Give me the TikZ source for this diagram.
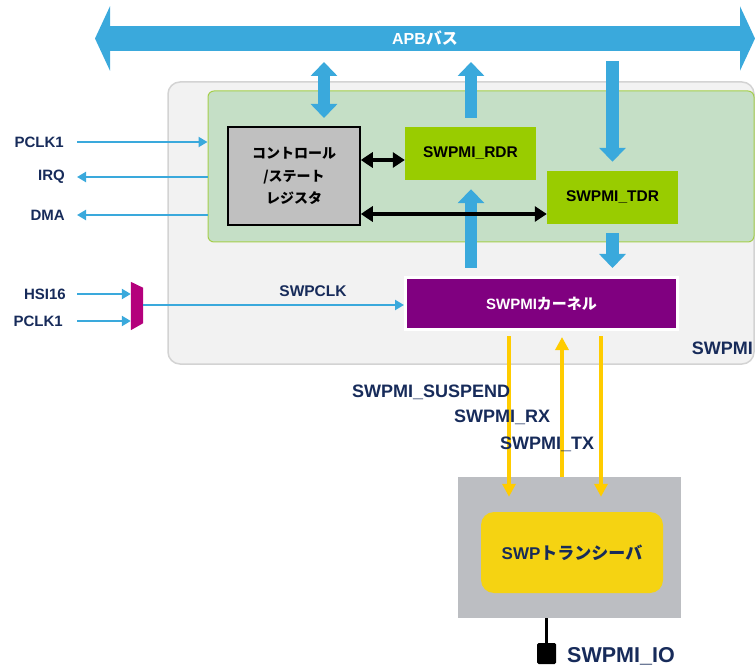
\documentclass[tikz,border=0pt]{standalone}
\usepackage{fontspec}
\setmainfont{Liberation Sans}
\newfontfamily\jp{Noto Sans CJK JP}
\usetikzlibrary{arrows.meta,calc}

\definecolor{apb}{HTML}{3AA9DC}
\definecolor{navy}{HTML}{172B5A}
\definecolor{outerfill}{HTML}{F2F2F2}
\definecolor{outerline}{HTML}{D3D3D3}
\definecolor{corefill}{HTML}{C5DFC6}
\definecolor{coreline}{HTML}{A5CF4C}
\definecolor{lime}{HTML}{99CC00}
\definecolor{regfill}{HTML}{C0C0C0}
\definecolor{kernfill}{HTML}{800080}
\definecolor{muxfill}{HTML}{B4007C}
\definecolor{sig}{HTML}{FFCC00}
\definecolor{trxfill}{HTML}{BCBEC2}
\definecolor{trxcore}{HTML}{F5D312}

\newcommand\fs[2]{\fontsize{#1}{#2}\selectfont}

\tikzset{
  fathead/.tip={Triangle[width=26,length=14]},
  bushead/.tip={Triangle[width=64,length=15]},
  ylwhead/.tip={Triangle[width=13,length=13]},
  lbl/.style={text=navy, font=\bfseries\fs{15}{17}, inner sep=0},
  siglbl/.style={text=navy, font=\bfseries\fs{18}{20}, inner sep=0, anchor=west},
  thinblue/.style={draw=apb, line width=2.8, -{Triangle[width=10,length=9]}},
  fatblue/.style={draw=apb, line width=12.5},
  blk/.style={draw=black, line width=3.8, {Triangle[width=15,length=12]}-{Triangle[width=15,length=12]}},
  ylw/.style={draw=sig, line width=4},
  regbox/.style={minimum width=131, minimum height=53, inner sep=0, fill=lime,
    font=\bfseries\fs{15.5}{17}},
}

\begin{document}
\begin{tikzpicture}[x=1pt,y=-1pt]
\useasboundingbox (0,0) rectangle (755,668);
\clip (0,0) rectangle (755,668);

% peripheral outline and register area
\node (swpmi) [draw=outerline, line width=1.5, fill=outerfill, rounded corners=12,
  minimum width=586, minimum height=282, inner sep=0] at (461,223) {};
\node (core) [draw=coreline, line width=1, fill=corefill, rounded corners=6,
  minimum width=546, minimum height=151, inner sep=0] at (481,166.5) {};
\node [text=navy, font=\bfseries\fs{18}{20}, anchor=east, inner sep=0] at (753,348) {SWPMI};

% APB bus
\coordinate (busL) at (95,38.5);
\coordinate (busR) at (755,38.5);
\draw[draw=apb, line width=25, bushead-bushead] (busL) -- (busR);
\node (bus) [text=white, font=\bfseries\fs{16}{18}, inner sep=0] at (425,38.5) {APB{\jp バス}};

% registers
\node (ctrl) [draw=black, line width=1.5, fill=regfill, minimum width=132, minimum height=98,
  inner sep=0, align=center, font=\bfseries\jp\fs{14}{22.5}] at (294,176)
  {コントロール\\/ステート\\レジスタ};
\node (rdr) [regbox] at (470.5,153.5) {SWPMI\_RDR};
\node (tdr) [regbox] at (612.5,197.5) {SWPMI\_TDR};

% kernel
\node (kern) [draw=white, line width=3, fill=kernfill, minimum width=272, minimum height=52,
  inner sep=0, text=white, font=\bfseries\fs{15}{17}] at (541.5,303.5) {SWPMI{\jp カーネル}};

% bus connections
\coordinate (ctrlbus) at (324,62);
\coordinate (ctrltop) at (324,118);
\coordinate (rdrbus) at (471,62);
\coordinate (tdrbus) at (612.5,61);
\draw[fatblue, fathead-fathead] (ctrlbus) -- (ctrltop);
\draw[fatblue, -fathead] ($(rdr.north)+(0.5,-9)$) -- (rdrbus);
\draw[fatblue, -fathead] (tdrbus) -- ($(tdr.north)+(0,-9)$);
\draw[fatblue, -fathead] ($(kern.north)+(-70.5,-8)$) -- ($(rdr.south)+(0.5,9)$);
\draw[fatblue, -fathead] ($(tdr.south)+(0,9)$) -- ($(kern.north)+(71,-8)$);

% register data paths
\draw[blk] ([yshift=-6.5]rdr.west -| ctrl.east) -- ([yshift=-6.5]rdr.west);
\draw[blk] ([yshift=-16.5]tdr.west -| ctrl.east) -- ([yshift=-16.5]tdr.west);

% system interface signals
\node (pclka) [lbl, anchor=east] at (64,142) {PCLK1};
\node (irq) [lbl, anchor=east] at (65,177) {IRQ};
\node (dma) [lbl, anchor=east] at (65,215) {DMA};
\draw[thinblue] ([xshift=13]pclka.east) -- (pclka -| core.west);
\draw[thinblue] (irq -| core.west) -- ([xshift=12]irq.east);
\draw[thinblue] (dma -| core.west) -- ([xshift=12]dma.east);

% clock selection
\node (mux) [minimum width=12, minimum height=48, inner sep=0] at (137,306) {};
\fill[muxfill] (mux.north west) -- ([yshift=-6]mux.north east) -- ([yshift=7]mux.south east)
  -- (mux.south west) -- cycle;
\node (hsi) [lbl, anchor=east] at (66,294) {HSI16};
\node (pclkb) [lbl, anchor=east] at (63,321) {PCLK1};
\draw[thinblue] ([xshift=11]hsi.east) -- (hsi -| mux.west);
\draw[thinblue] ([xshift=14]pclkb.east) -- (pclkb -| mux.west);
\draw[thinblue] ([yshift=1]mux.east) -- ([yshift=1]mux.east -| kern.west);
\node [lbl, font=\bfseries\fs{15.5}{17}] at (313,291) {SWPCLK};

% transceiver
\node (trx) [fill=trxfill, minimum width=223, minimum height=141, inner sep=0] at (569.5,547.5) {};
\node (trxc) [fill=trxcore, rounded corners=13, minimum width=182, minimum height=81, inner sep=0,
  text=navy, font=\bfseries\fs{17}{19}] at (572,552.5) {SWP{\jp トランシーバ}};

% line signals
\draw[ylw, -ylwhead] ($(kern.south)+(-32.5,5)$) -- ($(trx.north)+(-60.5,20)$);
\draw[ylw, -ylwhead] ($(trx.north)+(-7.5,0)$) -- ($(kern.south)+(20.5,6)$);
\draw[ylw, -ylwhead] ($(kern.south)+(59.5,5)$) -- ($(trx.north)+(31.5,20)$);
\node [siglbl] at (352,392) {SWPMI\_SUSPEND};
\node [siglbl] at (454,417) {SWPMI\_RX};
\node [siglbl] at (500,444) {SWPMI\_TX};

% IO pin
\node (io) [fill=black, rounded corners=1.5, minimum width=19, minimum height=21, inner sep=0] at (546.5,653.5) {};
\draw[line width=2.5] (trx.south -| io.north) -- (io.north);
\node [text=navy, font=\bfseries\fs{21.5}{23}, anchor=west, inner sep=0] at (567,656) {SWPMI\_IO};
\end{tikzpicture}
\end{document}
